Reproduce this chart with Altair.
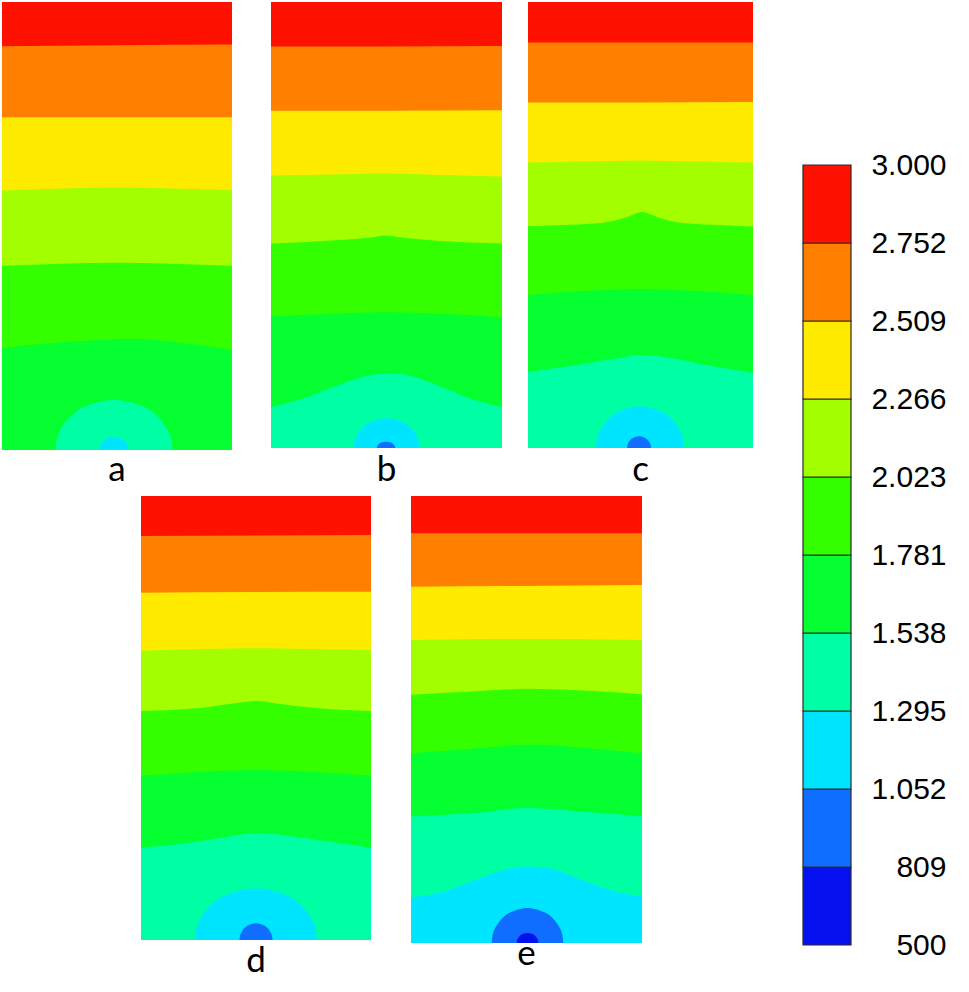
import altair as alt
import pandas as pd

# ---- colour levels (value bands, top = highest) ----
BAND_NAMES = ["2752-3000", "2509-2752", "2266-2509", "2023-2266", "1781-2023",
              "1538-1781", "1295-1538", "1052-1295", "809-1052", "500-809"]
BAND_COLORS = ["#FF1100", "#FF7F00", "#FFEB00", "#A3FF00", "#33FF00",
               "#05FF30", "#00FFA5", "#00E5FF", "#0F6EFF", "#0510EE"]
LEVEL_LABELS = ["500", "809", "1.052", "1.295", "1.538", "1.781",
                "2.023", "2.266", "2.509", "2.752", "3.000"]

# ---- contour boundaries: (band below the line, x, depth from top) ----
A_LINES = [
    ("2752-3000", [0, 230], [0, 0]),
    ("2509-2752", [0, 115, 230], [44, 43, 42.5]),
    ("2266-2509", [0, 115, 230], [115, 115, 115]),
    ("2023-2266", [0, 60, 115, 170, 230], [188, 186, 185, 186, 187.5]),
    ("1781-2023", [0, 60, 115, 170, 230], [263, 261, 260, 261, 263]),
    ("1538-1781", [0, 50, 100, 130, 180, 230], [345, 340, 337, 336, 340, 347]),
]
A_BLOBS = [
    ("1295-1538", [53.5, 55.2, 59.4, 68.1, 82.8, 112, 141.2, 155.9, 164.6, 168.8, 170.5],
     [446.7, 434.5, 424.9, 413.6, 403.4, 396.7, 403.4, 413.6, 424.9, 434.5, 446.7]),
    ("1052-1295", [97.8, 98.2, 99.2, 101.4, 104.9, 112, 119.1, 122.6, 124.8, 125.8, 126.2],
     [446.7, 443.5, 440.9, 437.9, 434.9, 433.4, 434.9, 437.9, 440.9, 443.5, 446.7]),
]
B_LINES = [
    ("2752-3000", [0, 231], [0, 0]),
    ("2509-2752", [0, 115, 231], [44.7, 44.5, 44]),
    ("2266-2509", [0, 115, 231], [109, 109, 108.5]),
    ("2023-2266", [0, 60, 115, 170, 231], [174, 173, 172, 173.5, 175]),
    ("1781-2023", [0, 60, 100, 115, 130, 170, 231], [242, 239, 236, 234, 236, 239.5, 242]),
    ("1538-1781", [0, 60, 115, 170, 231], [315, 312.5, 311, 312.5, 316]),
    ("1295-1538", [0, 27, 61, 94, 116, 137, 171, 204, 231],
     [406, 399, 386, 375, 372, 374, 386, 399, 406]),
]
B_BLOBS = [
    ("1052-1295", [82.5, 83.5, 85.8, 90.8, 99, 115.5, 132, 140.2, 145.2, 147.5, 148.5],
     [447, 439.8, 434.1, 427.4, 421.3, 417.3, 421.3, 427.4, 434.1, 439.8, 447]),
    ("809-1052", [105.8, 106.1, 106.7, 108.1, 110.4, 115, 119.6, 121.9, 123.3, 123.9, 124.2],
     [447, 445.5, 444.3, 442.8, 441.5, 440.7, 441.5, 442.8, 444.3, 445.5, 447]),
]
C_LINES = [
    ("2752-3000", [0, 225], [0, 0]),
    ("2509-2752", [0, 112, 225], [40.3, 40.3, 40.3]),
    ("2266-2509", [0, 112, 225], [100, 100, 99.5]),
    ("2023-2266", [0, 56, 112, 168, 225], [160, 159, 158, 159, 160]),
    ("1781-2023", [0, 42, 75, 99, 114, 129, 152, 185, 225],
     [223.3, 222, 220, 214.3, 209.3, 214.3, 220, 222, 223.7]),
    ("1538-1781", [0, 56, 112, 168, 225], [292, 288, 286, 288, 292]),
    ("1295-1538", [0, 42, 92, 114, 135, 175, 225], [368.7, 362.7, 354.3, 351.7, 353.3, 361, 369.3]),
]
C_BLOBS = [
    ("1052-1295", [68, 69.3, 72.4, 79, 90, 112, 134, 145, 151.6, 154.7, 156],
     [444.3, 434.2, 426.2, 416.8, 408.3, 402.7, 408.3, 416.8, 426.2, 434.2, 444.3]),
    ("809-1052", [99, 99.4, 100.2, 102, 105, 111, 117, 120, 121.8, 122.6, 123],
     [444.3, 441.5, 439.2, 436.6, 434.3, 432.7, 434.3, 436.6, 439.2, 441.5, 444.3]),
]
D_LINES = [
    ("2752-3000", [0, 230], [0, 0]),
    ("2509-2752", [0, 115, 230], [40, 39.5, 39]),
    ("2266-2509", [0, 115, 230], [96.7, 96, 95.7]),
    ("2023-2266", [0, 60, 115, 170, 230], [154.7, 153, 152.3, 153, 154]),
    ("1781-2023", [0, 61, 94, 116, 137, 177, 230], [215, 211.7, 207.3, 205, 207.7, 212.3, 215]),
    ("1538-1781", [0, 60, 115, 170, 230], [279.7, 276, 274, 276, 279.7]),
    ("1295-1538", [0, 44, 77, 116, 154, 177, 230], [351.7, 347.3, 342.3, 337.3, 340.7, 344, 351.7]),
]
D_BLOBS = [
    ("1052-1295", [54, 55.8, 60.1, 69.3, 84.5, 115, 145.5, 160.7, 169.9, 174.2, 176],
     [444, 431.4, 421.5, 409.8, 399.2, 392.3, 399.2, 409.8, 421.5, 431.4, 444]),
    ("809-1052", [98.5, 99, 100.2, 102.6, 106.8, 115, 123.2, 127.4, 129.8, 131, 131.5],
     [444, 439.9, 436.7, 433, 429.5, 427.3, 429.5, 433, 436.7, 439.9, 444]),
]
E_LINES = [
    ("2752-3000", [0, 231], [0, 0]),
    ("2509-2752", [0, 115, 231], [37.3, 37.3, 37.3]),
    ("2266-2509", [0, 115, 231], [90.7, 90, 89]),
    ("2023-2266", [0, 60, 115, 170, 231], [144, 143.3, 143, 143.3, 144]),
    ("1781-2023", [0, 61, 116, 177, 231], [199, 195.7, 193, 195, 198.3]),
    ("1538-1781", [0, 61, 116, 177, 231], [257.3, 253, 249, 252.3, 257.3]),
    ("1295-1538", [0, 61, 116, 177, 231], [320.7, 317.3, 312.3, 316.3, 320.7]),
    ("1052-1295", [0, 27, 61, 94, 116, 137, 171, 204, 231],
     [401.7, 397.3, 385.7, 374, 370.7, 372.3, 384.3, 395.7, 400.7]),
]
E_BLOBS = [
    ("809-1052", [80.7, 81.8, 84.3, 89.7, 98.6, 116.5, 134.4, 143.3, 148.7, 151.2, 152.3],
     [447.3, 438.8, 432, 424.2, 417, 412.3, 417, 424.2, 432, 438.8, 447.3]),
    ("500-809", [105.7, 106, 106.8, 108.4, 111.1, 116.5, 121.9, 124.6, 126.2, 127, 127.3],
     [447.3, 444.9, 442.9, 440.7, 438.6, 437.3, 438.6, 440.7, 442.9, 444.9, 447.3]),
]

color_scale = alt.Scale(domain=BAND_NAMES, range=BAND_COLORS)


def area_layer(band, xs, ds, W, H, interp):
    df = pd.DataFrame({"x": xs, "d": ds, "base": H, "band": band})
    return alt.Chart(df).mark_area(interpolate=interp, clip=True).encode(
        x=alt.X("x:Q", scale=alt.Scale(domain=[0, W], nice=False, zero=False), axis=None),
        y=alt.Y("d:Q", scale=alt.Scale(domain=[0, H], reverse=True, nice=False, zero=False),
                axis=None, stack=None),
        y2=alt.Y2("base"),
        color=alt.Color("band:N", scale=color_scale, legend=None),
    )


def panel(lines, blobs, W, H, pw, ph, label, toff):
    layers = [area_layer(b, xs, ds, W, H, "monotone") for b, xs, ds in lines]
    layers += [area_layer(b, xs, ds, W, H, "cardinal") for b, xs, ds in blobs]
    return alt.layer(*layers).properties(
        width=pw, height=ph,
        title=alt.TitleParams(label, orient="bottom", anchor="middle", offset=toff,
                              fontSize=35, font="Lato", fontWeight="normal",
                              color="black", baseline="top"),
    )


def spacer(w, h):
    return alt.Chart(pd.DataFrame({"v": [0]})).mark_point(opacity=0, size=1).encode(
        x=alt.X("v:Q", axis=None, scale=alt.Scale(domain=[-1, 1])),
        y=alt.Y("v:Q", axis=None, scale=alt.Scale(domain=[-1, 1])),
    ).properties(width=w, height=h)


pa = panel(A_LINES, A_BLOBS, 230, 446.7, 230, 448, "a", 3)
pb = panel(B_LINES, B_BLOBS, 231, 447, 231, 446, "b", 5)
pc = panel(C_LINES, C_BLOBS, 225, 444.3, 225, 446, "c", 5)
pd_ = panel(D_LINES, D_BLOBS, 230, 444, 230, 444, "d", 4)
pe = panel(E_LINES, E_BLOBS, 231, 447.3, 231, 447, "e", -6)

row1 = alt.hconcat(pa, spacer(39, 1), pb, spacer(26, 1), pc, spacing=0)
row2 = alt.hconcat(spacer(139, 1), pd_, spacer(40, 1), pe, spacing=0)
left = alt.vconcat(row1, row2, spacing=8)

# ---- colour bar ----
cb_df = pd.DataFrame({
    "lo": list(range(10)),
    "hi": list(range(1, 11)),
    "band": BAND_NAMES[::-1],
    "x0": 0,
    "x1": 1,
})
label_expr = "[" + ",".join("'%s'" % s for s in LEVEL_LABELS) + "][datum.value]"
colorbar = alt.Chart(cb_df).mark_rect(stroke="#2a2a2a", strokeWidth=1.2).encode(
    x=alt.X("x0:Q", scale=alt.Scale(domain=[0, 1]), axis=None),
    x2=alt.X2("x1"),
    y=alt.Y("lo:Q", scale=alt.Scale(domain=[0, 10], nice=False),
            axis=alt.Axis(orient="right", values=list(range(11)), labelExpr=label_expr,
                          ticks=False, tickSize=0, domain=False, grid=False,
                          labelFontSize=30, labelFont="Liberation Sans", labelColor="black",
                          labelAlign="right", labelBaseline="middle", labelPadding=95,
                          labelFlush=False, labelOverlap=False, title=None)),
    y2=alt.Y2("hi"),
    color=alt.Color("band:N", scale=color_scale, legend=None),
).properties(width=48, height=780)

right = alt.vconcat(spacer(48, 148), colorbar, spacing=0)

chart = alt.hconcat(left, right, spacing=49).configure_view(stroke=None).properties(
    padding={"left": 2, "top": 2, "right": 0, "bottom": 0}, background="white"
)

chart.save("out.html", embed_options={"renderer": "svg", "actions": False})
